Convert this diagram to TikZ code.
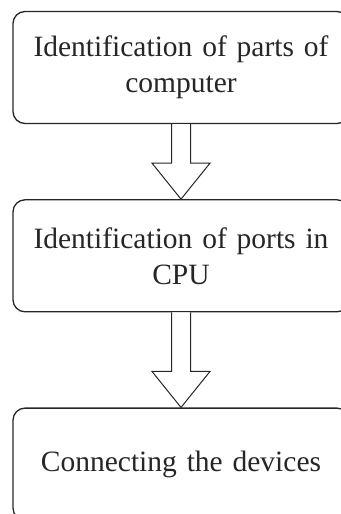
\documentclass[tikz,border=0pt]{standalone}
\usepackage{fontspec}
\setmainfont{Liberation Serif}
\usetikzlibrary{positioning,calc}

\tikzset{
  stepbox/.style={draw=black!85, line width=1.3pt, rounded corners=12pt,
    text width=330pt, inner xsep=3pt, inner ysep=0pt, minimum height=112pt,
    align=center, text=black!85, font=\fontsize{29.5}{36}\selectfont},
  hollow/.style={draw=black!85, line width=1pt, fill=white, line join=miter}
}

\begin{document}
\begin{tikzpicture}[x=1pt,y=1pt]
  \useasboundingbox (0,0) rectangle (340,-514);
  \node[stepbox] (parts) at (181,-67.5) {Identification of parts of\\ computer};
  \node[stepbox, below=75pt of parts] (ports) {Identification of ports in\\ CPU};
  \node[stepbox, below=95pt of ports] (connect) {Connecting the devices};
  % block arrows between the boxes
  \foreach \a/\b in {parts/ports, ports/connect}
    \draw[hollow] ($(\a.south)+(-9.5,0)$) -- ($(\b.north)+(-9.5,36)$)
      -- ($(\b.north)+(-29,36)$) -- (\b.north) -- ($(\b.north)+(29,36)$)
      -- ($(\b.north)+(9.5,36)$) -- ($(\a.south)+(9.5,0)$);
\end{tikzpicture}
\end{document}
